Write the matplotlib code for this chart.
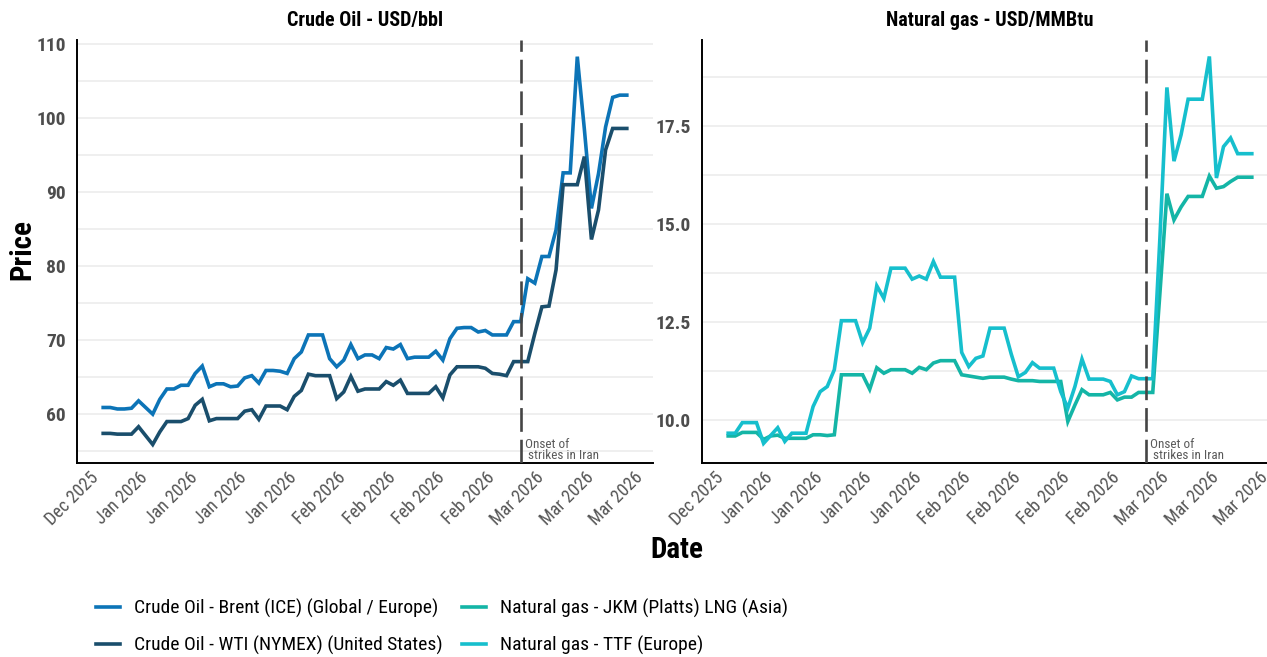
import pandas as pd
import matplotlib
matplotlib.use("Agg")
import matplotlib.pyplot as plt
import matplotlib.dates as mdates
from matplotlib.ticker import MultipleLocator, FormatStrFormatter
from matplotlib import font_manager
import numpy as np

installed = {f.name for f in font_manager.fontManager.ttflist}
narrow = [n for n in ["Roboto Condensed", "Open Sans Condensed", "DejaVu Sans Condensed",
                      "Liberation Sans Narrow", "Roboto"] if n in installed]
FONT = narrow[0] if narrow else "DejaVu Sans"
plt.rcParams['font.family'] = [FONT, 'DejaVu Sans']
plt.rcParams['font.stretch'] = 'condensed'

# daily prices, 31 Dec 2025 -> 15 Mar 2026
dates = pd.date_range("2025-12-31", "2026-03-15", freq="D")

brent = [60.9, 60.9, 60.7, 60.7, 60.8, 61.8, 60.9, 60.0, 62.0, 63.4,
         63.4, 63.9, 63.9, 65.5, 66.5, 63.7, 64.1, 64.1, 63.7, 63.8,
         64.9, 65.2, 64.2, 65.9, 65.9, 65.8, 65.5, 67.5, 68.4, 70.7,
         70.7, 70.7, 67.5, 66.4, 67.3, 69.4, 67.5, 68.0, 68.0, 67.5,
         69.0, 68.8, 69.4, 67.5, 67.7, 67.7, 67.7, 68.5, 67.3, 70.2,
         71.6, 71.7, 71.7, 71.1, 71.3, 70.7, 70.7, 70.7, 72.5, 72.5,
         78.3, 77.7, 81.3, 81.3, 84.9, 92.6, 92.6, 108.3, 98.5, 87.8,
         92.5, 98.8, 102.8, 103.1, 103.1]
wti = [57.4, 57.4, 57.3, 57.3, 57.3, 58.3, 57.1, 55.9, 57.6, 59.0,
       59.0, 59.0, 59.4, 61.2, 62.0, 59.1, 59.4, 59.4, 59.4, 59.4,
       60.4, 60.6, 59.3, 61.1, 61.1, 61.1, 60.6, 62.4, 63.2, 65.4,
       65.2, 65.2, 65.2, 62.1, 63.0, 65.1, 63.1, 63.4, 63.4, 63.4,
       64.4, 63.9, 64.6, 62.8, 62.8, 62.8, 62.8, 63.7, 62.2, 65.3,
       66.4, 66.4, 66.4, 66.4, 66.2, 65.5, 65.4, 65.2, 67.1, 67.1,
       67.1, 70.9, 74.5, 74.6, 79.5, 91.0, 91.0, 91.0, 94.8, 83.6,
       87.6, 95.7, 98.6, 98.6, 98.6]
jkm = [9.59, 9.59, 9.68, 9.68, 9.68, 9.50, 9.59, 9.61, 9.53, 9.53,
       9.53, 9.53, 9.62, 9.62, 9.60, 9.62, 11.15, 11.15, 11.15, 11.15,
       10.78, 11.33, 11.19, 11.28, 11.28, 11.28, 11.19, 11.34, 11.28, 11.45,
       11.51, 11.51, 11.51, 11.15, 11.12, 11.09, 11.06, 11.09, 11.09, 11.09,
       11.04, 11.00, 11.00, 11.00, 10.98, 10.98, 10.98, 10.98, 9.96, 10.38,
       10.77, 10.64, 10.64, 10.64, 10.70, 10.51, 10.58, 10.58, 10.70, 10.70,
       10.70, 13.20, 15.77, 15.10, 15.43, 15.70, 15.70, 15.70, 16.22, 15.91,
       15.95, 16.08, 16.19, 16.19, 16.19]
ttf = [9.66, 9.66, 9.93, 9.93, 9.93, 9.40, 9.60, 9.80, 9.45, 9.66,
       9.66, 9.66, 10.34, 10.72, 10.85, 11.28, 12.53, 12.53, 12.53, 11.97,
       12.34, 13.42, 13.10, 13.87, 13.87, 13.87, 13.59, 13.67, 13.59, 14.04,
       13.64, 13.64, 13.64, 11.72, 11.36, 11.57, 11.63, 12.34, 12.34, 12.34,
       11.68, 11.10, 11.21, 11.46, 11.32, 11.32, 11.32, 10.72, 10.30, 10.85,
       11.55, 11.04, 11.04, 11.04, 10.98, 10.64, 10.72, 11.12, 11.05, 11.05,
       11.05, 14.60, 18.48, 16.60, 17.27, 18.18, 18.18, 18.18, 19.27, 16.17,
       16.97, 17.19, 16.79, 16.79, 16.79]

strike_date = pd.Timestamp("2026-02-28")

panels = [
    {"title": "Crude Oil - USD/bbl",
     "series": [("Crude Oil - Brent (ICE) (Global / Europe)", brent, "#0C74B7"),
                ("Crude Oil - WTI (NYMEX) (United States)", wti, "#1A4E6C")],
     "ylim": (53.4, 110.55), "major": 10, "minor": 5, "fmt": "%d"},
    {"title": "Natural gas - USD/MMBtu",
     "series": [("Natural gas - JKM (Platts) LNG (Asia)", jkm, "#14B5A6"),
                ("Natural gas - TTF (Europe)", ttf, "#16BFCD")],
     "ylim": (8.9, 19.69), "major": 2.5, "minor": 1.25, "fmt": "%.1f"},
]

fig = plt.figure(figsize=(12.67, 6.57), dpi=100)
ax_w = 576 / 1267
ax_h = 423 / 657
ax_b = 1 - 463 / 657
axes = [fig.add_axes([77 / 1267, ax_b, ax_w, ax_h]),
        fig.add_axes([702 / 1267, ax_b, ax_w, ax_h])]

span = dates[-1] - dates[0]
pad = span * 0.05

handles = []
for ax, p in zip(axes, panels):
    for label, vals, col in p["series"]:
        h, = ax.plot(dates, vals, color=col, lw=2.6, label=label,
                     solid_joinstyle="miter", zorder=3)
        handles.append(h)

    ax.axvline(strike_date, color="#454545", lw=1.9,
               linestyle=(0, (9.0, 3.0)), zorder=4)
    ax.text(strike_date + pd.Timedelta(hours=14), 0.002,
            "Onset of\n strikes in Iran", transform=ax.get_xaxis_transform(),
            fontsize=9.5, color="#5a5a5a", ha="left", va="bottom",
            linespacing=0.85)

    ax.set_xlim(dates[0] - pad, dates[-1] + pad)
    ax.set_ylim(*p["ylim"])
    ax.yaxis.set_major_locator(MultipleLocator(p["major"]))
    ax.yaxis.set_minor_locator(MultipleLocator(p["minor"]))
    ax.yaxis.set_major_formatter(FormatStrFormatter(p["fmt"]))
    ax.xaxis.set_major_locator(mdates.WeekdayLocator(byweekday=mdates.MO))
    ax.xaxis.set_major_formatter(mdates.DateFormatter("%b %Y"))

    ax.grid(axis="y", which="both", color="#EBEBEB", lw=1.1, zorder=0)
    ax.set_axisbelow(True)
    ax.tick_params(which="both", length=0)
    ax.tick_params(axis="y", labelsize=14, labelcolor="#4D4D4D", pad=8)
    ax.tick_params(axis="x", labelsize=13, labelcolor="#555555", pad=4)
    for t in ax.get_yticklabels():
        t.set_fontweight("bold")
    for t in ax.get_xticklabels():
        t.set_rotation(45)
        t.set_ha("right")
        t.set_rotation_mode("anchor")

    for s in ["top", "right"]:
        ax.spines[s].set_visible(False)
    for s in ["left", "bottom"]:
        ax.spines[s].set_color("black")
        ax.spines[s].set_linewidth(1.4)

    ax.set_title(p["title"], fontsize=14.5, fontweight="bold", pad=10)

fig.text(22 / 1267, 1 - 250 / 657, "Price", rotation=90, fontsize=21,
         fontweight="bold", ha="center", va="center")
fig.text(677 / 1267, 1 - 550 / 657, "Date", fontsize=21,
         fontweight="bold", ha="center", va="center")

fig.legend(handles=handles, labels=[h.get_label() for h in handles],
           ncol=2, loc="center left", bbox_to_anchor=(96 / 1267, 1 - 627 / 657),
           frameon=False, fontsize=14, handlelength=1.25, handletextpad=0.7,
           columnspacing=1.0, labelspacing=0.95, borderpad=0, borderaxespad=0)

fig.savefig("out.png", dpi=100)
